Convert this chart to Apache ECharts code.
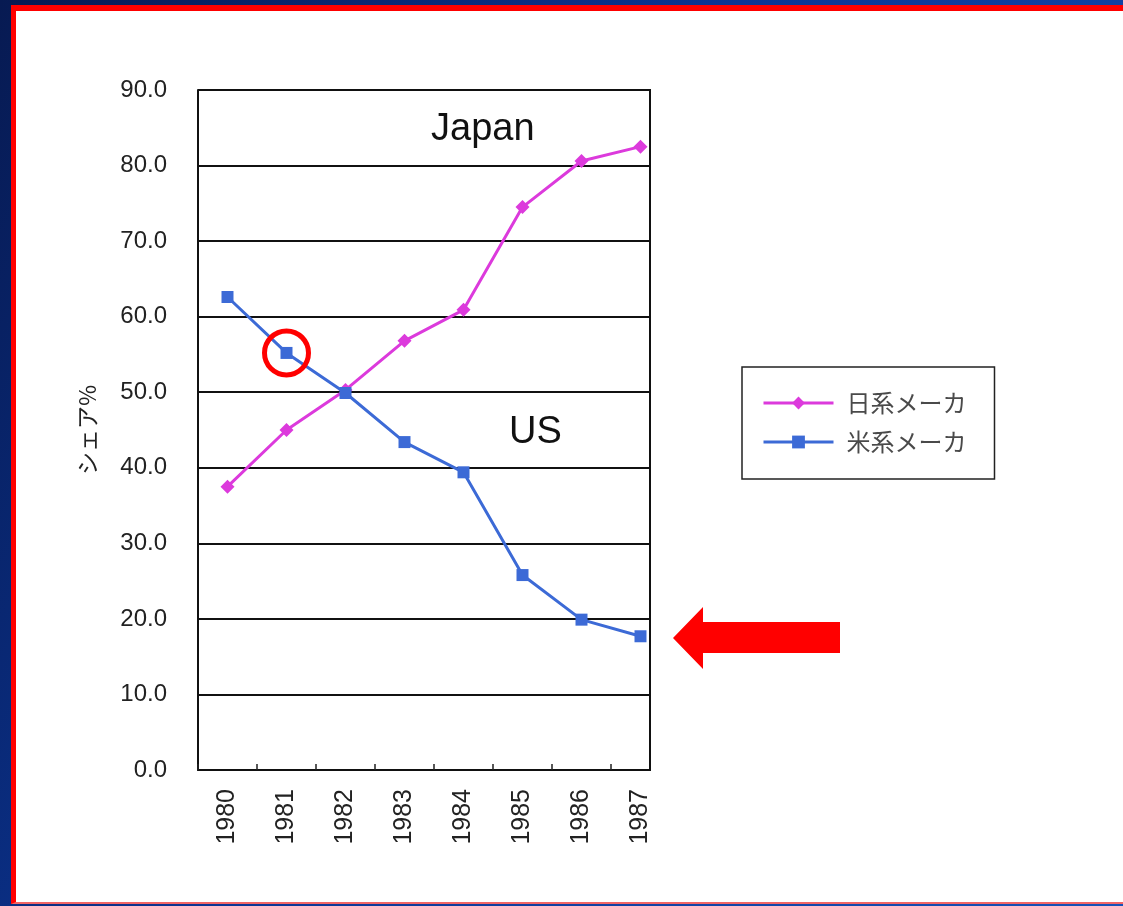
<!DOCTYPE html>
<html>
<head>
<meta charset="utf-8">
<script src="https://cdn.jsdelivr.net/npm/echarts@6/dist/echarts.min.js"></script>
<style>
  html, body { margin: 0; padding: 0; }
  body {
    width: 1123px; height: 906px; overflow: hidden; position: relative;
    background: linear-gradient(120deg, #071a52 0%, #0b3594 45%, #1552b8 100%);
  }
  .frame {
    position: absolute; left: 11px; top: 5px; width: 1112px; height: 899px;
    box-sizing: border-box; background: #fff;
    border-left: 5px solid #ff0000; border-top: 6px solid #ff0000;
    border-bottom: 2px solid #f06666;
  }
  #chart { position: absolute; left: 0; top: 0; width: 1123px; height: 906px; }
</style>
</head>
<body>
<div class="frame"></div>
<div id="chart"></div>
<script>
// data
const years = ['1980', '1981', '1982', '1983', '1984', '1985', '1986', '1987'];
const japanShare = [37.5, 45.0, 50.3, 56.8, 60.9, 74.5, 80.6, 82.5];
const usShare = [62.6, 55.2, 49.9, 43.4, 39.4, 25.8, 19.9, 17.7];
const seriesNames = ['日系メーカ', '米系メーカ'];

const myChart = echarts.init(document.getElementById('chart'));

const axisFont = 'Liberation Sans, Arial, sans-serif';
const jpFont = 'Noto Sans CJK JP, sans-serif';

let option = {
  animation: false,
  // plot is wider than the visible frame: the last column gets cut at x=650
  grid: { left: 198, top: 90, width: 472, height: 680, containLabel: false },
  xAxis: {
    type: 'category',
    data: years,
    boundaryGap: true,
    axisLine: { lineStyle: { color: '#111', width: 2 } },
    axisTick: { show: true, inside: true, length: 6, lineStyle: { color: '#222', width: 1.5 } },
    axisLabel: { rotate: 90, margin: 19, fontSize: 25, color: '#222', fontFamily: axisFont },
    splitLine: { show: false }
  },
  yAxis: {
    type: 'value',
    min: 0,
    max: 90,
    interval: 10,
    name: 'シェア%',
    nameLocation: 'middle',
    nameRotate: 90,
    nameGap: 99,
    nameTextStyle: { fontSize: 23, color: '#222', fontFamily: jpFont },
    axisLine: { show: true, lineStyle: { color: '#111', width: 2 } },
    axisTick: { show: false },
    axisLabel: {
      margin: 31, fontSize: 24, color: '#222', fontFamily: axisFont,
      formatter: v => v.toFixed(1)
    },
    splitLine: { lineStyle: { color: '#111', width: 2 } }
  },
  legend: {
    orient: 'vertical',
    left: 742,
    top: 367,
    data: seriesNames,
    itemWidth: 70,
    itemHeight: 16,
    itemGap: 15,
    padding: [24, 28, 25, 20],
    borderColor: '#222',
    borderWidth: 1.5,
    backgroundColor: '#fff',
    lineStyle: { width: 3 },
    textStyle: { fontSize: 24, color: '#4a4a4a', fontFamily: jpFont, padding: [0, 0, 0, 8] }
  },
  series: [
    {
      name: seriesNames[0],
      type: 'line',
      data: japanShare,
      symbol: 'diamond',
      symbolSize: 14,
      lineStyle: { color: '#dc3adc', width: 3 },
      itemStyle: { color: '#dc3adc' },
      z: 3
    },
    {
      name: seriesNames[1],
      type: 'line',
      data: usShare,
      symbol: 'rect',
      symbolSize: 12,
      lineStyle: { color: '#3c6ad6', width: 3 },
      itemStyle: { color: '#3c6ad6' },
      z: 4,
      markPoint: {
        symbol: 'circle',
        symbolSize: 44,
        silent: true,
        label: { show: false },
        itemStyle: { color: 'rgba(0,0,0,0)', borderColor: '#ff0000', borderWidth: 5 },
        data: [{ coord: ['1981', usShare[1]] }]
      }
    }
  ],
  graphic: [
    // hide the overflow of the last column, then close the frame
    { type: 'rect', z: 100, shape: { x: 651, y: 80, width: 40, height: 700 }, style: { fill: '#fff' } },
    { type: 'line', z: 101, shape: { x1: 650, y1: 89, x2: 650, y2: 771 }, style: { stroke: '#111', lineWidth: 2 } },
    { type: 'text', z: 101, left: 431, top: 111, style: { text: 'Japan', fontSize: 38, fill: '#111', fontFamily: axisFont } },
    { type: 'text', z: 101, left: 509, top: 414, style: { text: 'US', fontSize: 38, fill: '#111', fontFamily: axisFont } },
    {
      type: 'polygon', z: 101,
      shape: { points: [[673, 638], [703, 607], [703, 622], [840, 622], [840, 653], [703, 653], [703, 669]] },
      style: { fill: '#ff0000' }
    }
  ]
};

myChart.setOption(option);
</script>
</body>
</html>
